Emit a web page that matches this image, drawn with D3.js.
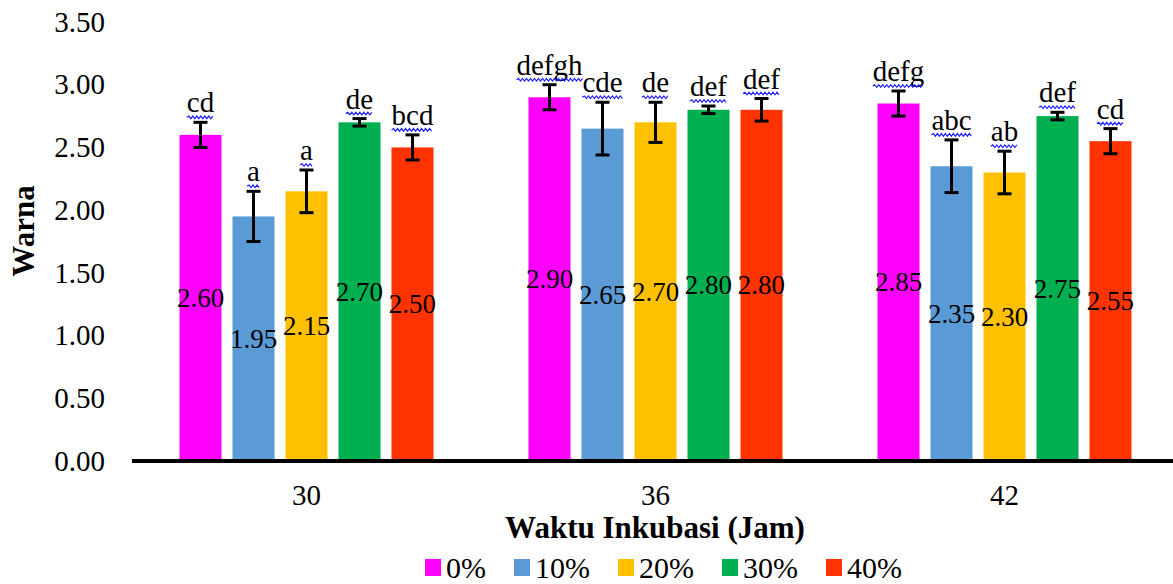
<!DOCTYPE html>
<html>
<head>
<meta charset="utf-8">
<script src="https://cdn.jsdelivr.net/npm/d3@7"></script>
<style>
  html, body { margin: 0; padding: 0; background: #fff; }
  svg { display: block; }
  text { font-family: "Liberation Serif", "Times New Roman", serif; fill: #000; }
</style>
</head>
<body>
<svg id="chart" width="1173" height="584"></svg>
<script>
// ---- data ----
const categories = ["30", "36", "42"];
const seriesNames = ["0%", "10%", "20%", "30%", "40%"];
const colors = ["#FF00FF", "#5B9BD5", "#FFC000", "#00B050", "#FF3300"];
const values0  = [2.60, 2.90, 2.85];
const values10 = [1.95, 2.65, 2.35];
const values20 = [2.15, 2.70, 2.30];
const values30 = [2.70, 2.80, 2.75];
const values40 = [2.50, 2.80, 2.55];
const err0  = [0.10, 0.10, 0.10];
const err10 = [0.20, 0.21, 0.21];
const err20 = [0.17, 0.16, 0.17];
const err30 = [0.03, 0.03, 0.03];
const err40 = [0.10, 0.09, 0.10];
const letters0  = ["cd", "defgh", "defg"];
const letters10 = ["a", "cde", "abc"];
const letters20 = ["a", "de", "ab"];
const letters30 = ["de", "def", "def"];
const letters40 = ["bcd", "def", "cd"];
const yTicks = [0, 0.5, 1.0, 1.5, 2.0, 2.5, 3.0, 3.5];

const seriesValues = [values0, values10, values20, values30, values40];
const seriesErr = [err0, err10, err20, err30, err40];
const seriesLetters = [letters0, letters10, letters20, letters30, letters40];

const svg = d3.select("#chart");
const x0 = 132, x1 = 1179, yTop = 22, yBase = 461;
const FONT = '"Liberation Serif", "Times New Roman", serif';

const x = d3.scaleBand().domain(categories).range([x0, x1]).padding(0);
const xs = d3.scaleBand().domain(seriesNames)
  .range([47.5, x.bandwidth() - 47.5]).paddingInner(0.2075).paddingOuter(0);
const y = d3.scaleLinear().domain([0, 3.5]).range([yBase, yTop]);

// y axis labels
const yAxis = d3.axisLeft(y).tickValues(yTicks).tickFormat(d3.format(".2f")).tickSize(0).tickPadding(27);
const yg = svg.append("g").attr("transform", `translate(${x0},0)`).call(yAxis);
yg.select(".domain").remove();
yg.selectAll("text").style("font-family", FONT)
  .style("font-size", "29px").attr("fill", "#000");

// bars
const data = [];
categories.forEach((c, ci) => {
  seriesNames.forEach((s, si) => {
    data.push({c, s, si, v: seriesValues[si][ci], e: seriesErr[si][ci], l: seriesLetters[si][ci]});
  });
});

const g = svg.append("g");
g.selectAll("rect.bar").data(data).join("rect")
  .attr("class", "bar")
  .attr("x", d => x(d.c) + xs(d.s))
  .attr("width", xs.bandwidth())
  .attr("y", d => y(d.v))
  .attr("height", d => y(0) - y(d.v))
  .attr("fill", d => colors[d.si]);

// value labels
g.selectAll("text.val").data(data).join("text")
  .attr("class", "val")
  .attr("x", d => x(d.c) + xs(d.s) + xs.bandwidth() / 2)
  .attr("y", d => (y(d.v) + y(0)) / 2)
  .attr("text-anchor", "middle")
  .attr("dominant-baseline", "central")
  .style("font-family", FONT)
  .style("font-size", "27px")
  .text(d => d.v.toFixed(2));

// error bars
const eb = g.selectAll("g.err").data(data).join("g").attr("class", "err")
  .attr("stroke", "#000").attr("stroke-width", 3);
eb.append("line")
  .attr("x1", d => x(d.c) + xs(d.s) + xs.bandwidth() / 2)
  .attr("x2", d => x(d.c) + xs(d.s) + xs.bandwidth() / 2)
  .attr("y1", d => y(d.v + d.e)).attr("y2", d => y(d.v - d.e));
[1, -1].forEach(sgn => {
  eb.append("line")
    .attr("x1", d => x(d.c) + xs(d.s) + xs.bandwidth() / 2 - 7)
    .attr("x2", d => x(d.c) + xs(d.s) + xs.bandwidth() / 2 + 7)
    .attr("y1", d => y(d.v + sgn * d.e)).attr("y2", d => y(d.v + sgn * d.e));
});

// letter labels with blue wavy underline
const lt = g.selectAll("g.let").data(data).join("g").attr("class", "let");
lt.append("text")
  .attr("x", d => x(d.c) + xs(d.s) + xs.bandwidth() / 2)
  .attr("y", d => y(d.v + d.e) - 10)
  .attr("text-anchor", "middle")
  .style("font-family", FONT)
  .style("font-size", "29px")
  .text(d => d.l);
lt.each(function(d) {
  const t = d3.select(this).select("text");
  const w = t.node().getComputedTextLength();
  const cx = x(d.c) + xs(d.s) + xs.bandwidth() / 2;
  const yy = y(d.v + d.e) - 5;
  let p = `M${cx - w / 2},${yy}`;
  let k = 0;
  for (let xx = cx - w / 2 + 2; xx <= cx + w / 2; xx += 2) {
    k++;
    p += ` L${xx},${yy + (k % 2 ? -1.3 : 1.3)}`;
  }
  d3.select(this).append("path").attr("d", p)
    .attr("fill", "none").attr("stroke", "#1F1FFF").attr("stroke-width", 1.2);
});

// baseline
svg.append("line").attr("x1", x0).attr("x2", x1).attr("y1", yBase).attr("y2", yBase)
  .attr("stroke", "#000").attr("stroke-width", 4);

// x axis labels
const xAxis = d3.axisBottom(x).tickSize(0).tickPadding(23);
const xg = svg.append("g").attr("transform", `translate(0,${yBase})`).call(xAxis);
xg.select(".domain").remove();
xg.selectAll("text").style("font-family", FONT)
  .style("font-size", "29px").attr("fill", "#000");

// axis titles
svg.append("text").attr("x", 655).attr("y", 538).attr("text-anchor", "middle")
  .style("font-family", FONT)
  .style("font-size", "31px").style("font-weight", "bold").text("Waktu Inkubasi (Jam)");
svg.append("text").attr("transform", "translate(34,231) rotate(-90)").attr("text-anchor", "middle")
  .style("font-family", FONT)
  .style("font-size", "31px").style("font-weight", "bold").text("Warna");

// legend
const leg = svg.append("g");
let lx = 425;
seriesNames.forEach((s, i) => {
  leg.append("rect").attr("x", lx).attr("y", 559).attr("width", 16).attr("height", 17).attr("fill", colors[i]);
  const t = leg.append("text").attr("x", lx + 21).attr("y", 578)
    .style("font-family", FONT).style("font-size", "30px").text(s);
  lx += 21 + t.node().getComputedTextLength() + 28;
});
</script>
</body>
</html>
